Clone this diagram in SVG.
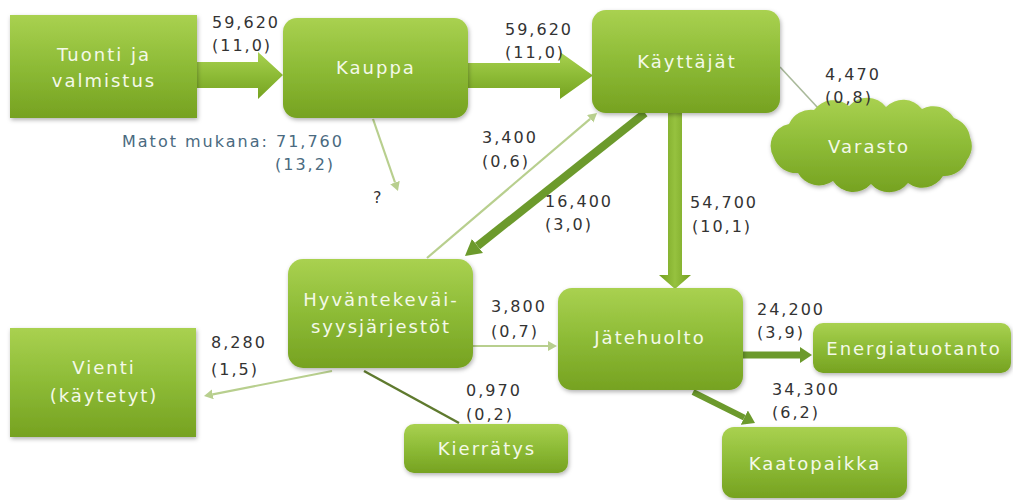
<svg xmlns="http://www.w3.org/2000/svg" width="1013" height="500" viewBox="0 0 1013 500">
<style>
.node{fill:url(#gNode);filter:url(#sh)}
.nt{font-family:"DejaVu Sans","Verdana",sans-serif;font-size:18px;letter-spacing:2px;fill:#f4f9e8;text-anchor:middle}
.lb{font-family:"DejaVu Sans","Verdana",sans-serif;font-size:16px;letter-spacing:2px;fill:#333333}
.lb2{font-family:"DejaVu Sans","Verdana",sans-serif;font-size:16px;letter-spacing:2px;fill:#4a6a80}
.light{stroke:#b8cf8e;stroke-width:2.2;fill:none}
.thick{stroke:#6c9a2c;fill:none}
.block{fill:url(#gNode)}
</style>
<defs>
<linearGradient id="gNode" x1="0" y1="0" x2="0" y2="1">
<stop offset="0" stop-color="#a9d150"/>
<stop offset="0.5" stop-color="#8dbb36"/>
<stop offset="1" stop-color="#76a221"/>
</linearGradient>
<linearGradient id="gV" x1="0" y1="0" x2="1" y2="0">
<stop offset="0" stop-color="#74a020"/>
<stop offset="0.5" stop-color="#96c23f"/>
<stop offset="1" stop-color="#74a020"/>
</linearGradient>
<filter id="sh" x="-10%" y="-10%" width="120%" height="130%">
<feDropShadow dx="1" dy="2" stdDeviation="2" flood-color="#000" flood-opacity="0.3"/>
</filter>
<marker id="mThin" markerUnits="userSpaceOnUse" viewBox="0 0 9 10" refX="0" refY="5" markerWidth="9" markerHeight="10" orient="auto">
<path d="M0,0 L9,5 L0,10 z" fill="#b8cf8e"/>
</marker>
<marker id="mThick" markerUnits="userSpaceOnUse" viewBox="0 0 16 18" refX="0" refY="9" markerWidth="16" markerHeight="18" orient="auto">
<path d="M0,0 L16,9 L0,18 z" fill="#6c9a2c"/>
</marker>
<marker id="mMed" markerUnits="userSpaceOnUse" viewBox="0 0 12 16" refX="0" refY="8" markerWidth="12" markerHeight="16" orient="auto">
<path d="M0,0 L12,8 L0,16 z" fill="#6c9a2c"/>
</marker>
</defs>

<g id="connectors">
<polygon class="block" points="197,62 258,62 258,52 283,75 258,99 258,88 197,88"/>
<polygon class="block" points="468,63 560,63 560,52 593,75.5 560,99 560,88 468,88"/>
<polygon fill="url(#gV)" points="668,113 682,113 682,275 691,275 675,289 659,275 668,275"/>
<line class="thick" stroke-width="8" x1="645" y1="113" x2="477.5" y2="246" marker-end="url(#mThick)"/>
<line class="light" x1="427" y1="258" x2="590.2" y2="118.8" marker-end="url(#mThin)"/>
<line class="light" x1="373" y1="119" x2="395" y2="182.5" marker-end="url(#mThin)"/>
<line stroke="#a9b99a" stroke-width="1.6" x1="780" y1="67" x2="818" y2="108"/>
<line class="light" x1="332" y1="371" x2="212.8" y2="394.3" marker-end="url(#mThin)"/>
<line class="light" x1="473" y1="346" x2="548" y2="346" marker-end="url(#mThin)"/>
<line stroke="#5f7a2e" stroke-width="2.5" x1="364" y1="371" x2="459" y2="423"/>
<line class="thick" stroke-width="7" x1="743" y1="355" x2="800" y2="355" marker-end="url(#mMed)"/>
<line class="thick" stroke-width="6" x1="693" y1="392" x2="744.3" y2="417.6" marker-end="url(#mMed)"/>
</g>

<g id="tuonti">
<rect class="node" x="10" y="15" width="187" height="103"/>
<text class="nt" x="104" y="61">Tuonti ja</text>
<text class="nt" x="104" y="87">valmistus</text>
</g>
<g id="kauppa">
<rect class="node" x="283" y="18" width="185" height="100" rx="14"/>
<text class="nt" x="376" y="74">Kauppa</text>
</g>
<g id="kayttajat">
<rect class="node" x="592" y="10" width="188" height="103" rx="14"/>
<text class="nt" x="687" y="68">Käyttäjät</text>
</g>
<g id="varasto">
<path class="node" d="M789,124 A24,24 0 0 1 814,110 A24,24 0 0 1 849,106 A24,24 0 0 1 886,107 A24,24 0 0 1 922,109 A24,24 0 0 1 954,118 A24,24 0 0 1 970,137 A24,24 0 0 1 967,160 A24,24 0 0 1 943,176 A24,24 0 0 1 908,183 A24,24 0 0 1 871,184 A24,24 0 0 1 833,181 A24,24 0 0 1 798,173 A24,24 0 0 1 774,158 A24,24 0 0 1 772,138 A24,24 0 0 1 789,124 z"/>
<text class="nt" x="869" y="153">Varasto</text>
</g>
<g id="hyvantekevaisyys">
<rect class="node" x="288" y="259" width="185" height="109" rx="15"/>
<text class="nt" x="381" y="306">Hyväntekeväi-</text>
<text class="nt" x="381" y="333">syysjärjestöt</text>
</g>
<g id="vienti">
<rect class="node" x="10" y="328" width="186" height="109"/>
<text class="nt" x="104" y="374">Vienti</text>
<text class="nt" x="104" y="402">(käytetyt)</text>
</g>
<g id="jatehuolto">
<rect class="node" x="558" y="288" width="185" height="102" rx="14"/>
<text class="nt" x="650" y="344">Jätehuolto</text>
</g>
<g id="energiatuotanto">
<rect class="node" x="813" y="323" width="198" height="50" rx="10"/>
<text class="nt" x="914" y="355">Energiatuotanto</text>
</g>
<g id="kierratys">
<rect class="node" x="404" y="424" width="164" height="49" rx="10"/>
<text class="nt" x="487" y="455">Kierrätys</text>
</g>
<g id="kaatopaikka">
<rect class="node" x="722" y="427" width="185" height="71" rx="12"/>
<text class="nt" x="815" y="470">Kaatopaikka</text>
</g>

<g id="labels">
<text class="lb" x="212" y="28">59,620</text>
<text class="lb" x="212" y="51">(11,0)</text>
<text class="lb" x="505" y="35">59,620</text>
<text class="lb" x="505" y="58">(11,0)</text>
<text class="lb2" x="122" y="147">Matot mukana: 71,760</text>
<text class="lb2" x="275" y="170">(13,2)</text>
<text class="lb" x="373" y="203">?</text>
<text class="lb" x="482" y="143">3,400</text>
<text class="lb" x="482" y="167">(0,6)</text>
<text class="lb" x="545" y="207">16,400</text>
<text class="lb" x="545" y="230">(3,0)</text>
<text class="lb" x="690" y="208">54,700</text>
<text class="lb" x="692" y="232">(10,1)</text>
<text class="lb" x="825" y="80">4,470</text>
<text class="lb" x="825" y="103">(0,8)</text>
<text class="lb" x="211" y="348">8,280</text>
<text class="lb" x="211" y="375">(1,5)</text>
<text class="lb" x="491" y="312">3,800</text>
<text class="lb" x="491" y="337">(0,7)</text>
<text class="lb" x="466" y="396">0,970</text>
<text class="lb" x="466" y="420">(0,2)</text>
<text class="lb" x="757" y="315">24,200</text>
<text class="lb" x="757" y="338">(3,9)</text>
<text class="lb" x="772" y="395">34,300</text>
<text class="lb" x="772" y="418">(6,2)</text>
</g>
</svg>
